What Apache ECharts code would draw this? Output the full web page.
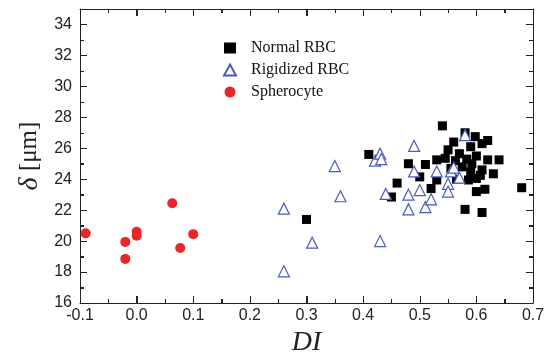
<!DOCTYPE html>
<html><head><meta charset="utf-8">
<script src="https://cdn.jsdelivr.net/npm/echarts@6/dist/echarts.min.js"></script>
<style>html,body{margin:0;padding:0;background:#fff}#c{width:545px;height:356px}</style>
</head><body><div id="c"></div>
<script>
const normalRBC = [[0.30,21.4],[0.41,25.6],[0.45,22.85],[0.46,23.75],[0.48,25.0],[0.50,24.15],[0.51,24.95],[0.52,23.4],[0.53,25.25],[0.53,23.95],[0.54,27.45],[0.545,25.35],[0.55,25.9],[0.555,24.7],[0.56,26.4],[0.563,25.2],[0.57,25.65],[0.575,24.8],[0.58,27.0],[0.58,22.05],[0.583,25.3],[0.586,23.95],[0.59,26.1],[0.59,24.45],[0.592,25.0],[0.598,26.75],[0.60,24.05],[0.60,23.2],[0.607,24.25],[0.61,26.3],[0.61,24.6],[0.61,21.85],[0.615,23.35],[0.62,26.5],[0.62,25.25],[0.63,24.35],[0.64,25.25],[0.68,23.45],[0.565,24.0],[0.60,25.5]];
const rigidizedRBC = [[0.26,22.1],[0.26,18.05],[0.31,19.9],[0.35,24.85],[0.36,22.9],[0.421,25.2],[0.43,25.65],[0.432,25.3],[0.43,20.0],[0.44,23.05],[0.48,23.0],[0.48,22.05],[0.49,26.15],[0.49,24.5],[0.50,23.3],[0.51,22.2],[0.52,22.7],[0.53,24.5],[0.55,23.7],[0.55,23.2],[0.555,24.5],[0.56,24.75],[0.57,24.1],[0.58,26.85]];
const spherocyte = [[-0.09,20.5],[-0.02,19.95],[-0.02,18.85],[0.0,20.6],[0.0,20.35],[0.063,22.45],[0.077,19.55],[0.10,20.45]];
const xTicks = {min:-0.1, max:0.7, step:0.1};
const yTicks = {min:16, max:35, step:2};

const chart = echarts.init(document.getElementById('c'));
const serif = 'Liberation Serif, Times New Roman, serif';
const sans = 'Liberation Sans, Arial, sans-serif';
function frameAxis(extra){
  return Object.assign({
    type:'value',
    axisLine:{show:true,onZero:false,lineStyle:{color:'#222',width:1}},
    axisTick:{show:true,inside:true,length:7,lineStyle:{color:'#222',width:1}},
    minorTick:{show:true,splitNumber:2,length:4,lineStyle:{color:'#222',width:1}},
    splitLine:{show:false}
  }, extra);
}
const xBottom = frameAxis({min:xTicks.min,max:xTicks.max,interval:xTicks.step,
  axisLabel:{show:true,color:'#222',fontFamily:sans,fontSize:16,margin:5,
    formatter:v => (Math.round(v*10)/10).toFixed(1)},
  name:'DI',nameLocation:'middle',nameGap:23,
  nameTextStyle:{fontFamily:serif,fontStyle:'italic',fontSize:28,color:'#222'}});
const xTop = frameAxis({position:'top',min:xTicks.min,max:xTicks.max,interval:xTicks.step,
  axisLabel:{show:false}});
const yLeft = frameAxis({min:yTicks.min,max:yTicks.max,interval:yTicks.step,
  axisLabel:{show:true,color:'#222',fontFamily:sans,fontSize:16,margin:8,showMaxLabel:false},
  name:'{i|δ} [μm]',nameLocation:'middle',nameGap:36,
  nameTextStyle:{fontFamily:serif,fontSize:25,color:'#222',
    rich:{i:{fontFamily:serif,fontStyle:'italic',fontSize:28,color:'#222'}}}});
const yRight = frameAxis({position:'right',min:yTicks.min,max:yTicks.max,interval:yTicks.step,
  axisLabel:{show:false}});

chart.setOption({
  animation:false,
  grid:{left:80,right:12,top:9,bottom:53,containLabel:false,outerBoundsMode:'none'},
  xAxis:[xBottom,xTop],
  yAxis:[yLeft,yRight],
  legend:{
    orient:'vertical',left:218,top:35,itemGap:6,itemWidth:12,itemHeight:11,
    textStyle:{fontFamily:serif,fontSize:16,color:'#111',padding:[0,0,0,10]},
    data:['Normal RBC','Rigidized RBC','Spherocyte']
  },
  series:[
    {name:'Normal RBC',type:'scatter',data:normalRBC,symbol:'rect',symbolSize:9,
      itemStyle:{color:'#000',opacity:1}},
    {name:'Rigidized RBC',type:'scatter',data:rigidizedRBC,symbol:'triangle',symbolSize:11,
      itemStyle:{color:'#fff',borderColor:'#4a5bbf',borderWidth:1.2,opacity:1}},
    {name:'Spherocyte',type:'scatter',data:spherocyte,symbol:'circle',symbolSize:10,
      itemStyle:{color:'#e8262a',opacity:1}}
  ]
});

// Frame tick marks placed through the axes' own scales (convertToPixel).
const els = [];
const yB = chart.convertToPixel({yAxisIndex:0}, yTicks.min);
const yT = chart.convertToPixel({yAxisIndex:0}, yTicks.max);
const xL = chart.convertToPixel({xAxisIndex:0}, xTicks.min);
const xR = chart.convertToPixel({xAxisIndex:0}, xTicks.max);
const tickStyle = {stroke:'#222', lineWidth:1};
const nx = Math.round((xTicks.max - xTicks.min) / (xTicks.step/2));
for (let i = 1; i < nx; i++) {
  const v = xTicks.min + i * xTicks.step/2;
  const px = Math.round(chart.convertToPixel({xAxisIndex:0}, v)) + 0.5;
  const len = (i % 2 === 0) ? 7 : 4;
  els.push({type:'line', silent:true, z:100, shape:{x1:px,y1:yB,x2:px,y2:yB-len}, style:tickStyle});
  els.push({type:'line', silent:true, z:100, shape:{x1:px,y1:yT,x2:px,y2:yT+len}, style:tickStyle});
}
for (let v = yTicks.min + yTicks.step/2; v < yTicks.max; v += yTicks.step/2) {
  const py = Math.round(chart.convertToPixel({yAxisIndex:0}, v)) + 0.5;
  const len = (Math.round((v - yTicks.min) / (yTicks.step/2)) % 2 === 0) ? 7 : 4;
  els.push({type:'line', silent:true, z:100, shape:{x1:xL,y1:py,x2:xL+len,y2:py}, style:tickStyle});
  els.push({type:'line', silent:true, z:100, shape:{x1:xR,y1:py,x2:xR-len,y2:py}, style:tickStyle});
}
chart.setOption({graphic:{elements:els}});
</script></body></html>
